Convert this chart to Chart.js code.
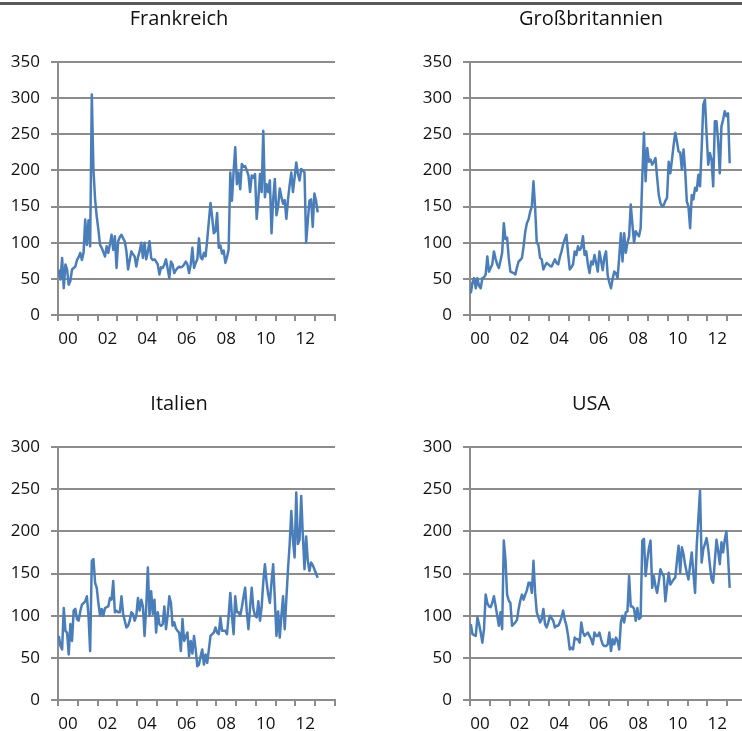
<!DOCTYPE html>
<html>
<head>
<meta charset="utf-8">
<script src="https://cdn.jsdelivr.net/npm/chart.js@4.4.1/dist/chart.umd.min.js"></script>
<style>
  html, body { margin: 0; padding: 0; background: #fff; width: 742px; height: 731px; overflow: hidden; position: relative; }
  #topline { position: absolute; left: 0; top: 2px; width: 742px; height: 3px; background: #5a5a5a; }
  canvas { position: absolute; }
</style>
</head>
<body>
<div id="topline"></div>
<canvas id="c1" width="358" height="355" style="left:0px;top:0px"></canvas>
<canvas id="c2" width="358" height="355" style="left:412px;top:0px"></canvas>
<canvas id="c3" width="358" height="355" style="left:0px;top:385px"></canvas>
<canvas id="c4" width="358" height="355" style="left:412px;top:385px"></canvas>
<script>
// Monthly values, Jan 2000 - Feb 2013
const frankreich = [
  63, 49, 79, 37, 70, 63, 42, 47, 63, 65, 67, 76,
  80, 86, 76, 86, 132, 97, 131, 95, 305, 201, 160, 136,
  118, 97, 93, 87, 81, 95, 86, 98, 111, 90, 109, 65,
  102, 108, 111, 106, 102, 88, 63, 76, 88, 84, 81, 67,
  80, 88, 100, 79, 100, 77, 88, 102, 79, 76, 77, 74,
  70, 56, 66, 65, 70, 77, 64, 51, 74, 70, 58, 62,
  65, 67, 66, 67, 70, 74, 70, 58, 70, 93, 65, 72,
  77, 106, 80, 77, 86, 81, 104, 130, 155, 135, 113, 116,
  141, 93, 96, 85, 89, 72, 80, 91, 197, 158, 198, 232,
  181, 197, 174, 209, 205, 206, 200, 193, 170, 193, 190, 195,
  133, 160, 195, 170, 255, 163, 181, 170, 186, 113, 160, 188,
  138, 150, 175, 163, 154, 159, 133, 160, 180, 197, 170, 190,
  211, 195, 186, 202, 200, 197, 100, 130, 158, 160, 122, 168,
  158, 142
];
const grossbritannien = [
  30, 45, 51, 37, 51, 40, 37, 51, 52, 56, 81, 60,
  65, 70, 88, 78, 70, 65, 75, 86, 127, 105, 107, 79,
  60, 59, 58, 56, 66, 74, 76, 79, 95, 115, 127, 132,
  143, 150, 185, 148, 100, 97, 79, 77, 63, 68, 72, 70,
  68, 67, 72, 77, 72, 70, 80, 88, 98, 105, 111, 85,
  63, 66, 70, 88, 83, 95, 90, 93, 109, 83, 88, 70,
  58, 74, 70, 83, 72, 60, 88, 75, 62, 80, 88, 55,
  45, 37, 50, 60, 58, 51, 80, 113, 74, 113, 86, 100,
  109, 153, 125, 100, 116, 112, 109, 120, 190, 252, 185, 231,
  212, 215, 208, 212, 217, 190, 166, 155, 150, 152, 158, 162,
  212, 196, 215, 235, 252, 240, 226, 225, 201, 229, 200, 157,
  150, 120, 166, 160, 176, 172, 194, 178, 230, 291, 298, 250,
  208, 224, 215, 178, 268, 268, 240, 196, 261, 270, 282, 275,
  279, 210
];
const italien = [
  76, 64, 60, 109, 82, 80, 54, 90, 70, 106, 108, 96,
  94, 105, 113, 115, 117, 123, 100, 58, 165, 167, 139, 133,
  115, 100, 108, 100, 109, 110, 111, 121, 119, 141, 104, 106,
  104, 104, 123, 102, 94, 86, 88, 94, 104, 102, 94, 100,
  121, 106, 119, 111, 76, 110, 157, 100, 129, 102, 119, 80,
  104, 90, 88, 90, 111, 84, 100, 123, 115, 88, 92, 85,
  82, 80, 58, 96, 70, 75, 80, 52, 70, 55, 76, 60,
  40, 42, 52, 60, 42, 54, 44, 60, 76, 78, 80, 86,
  80, 78, 98, 82, 82, 82, 78, 100, 127, 100, 78, 123,
  104, 104, 100, 110, 122, 133, 105, 84, 110, 133, 108, 100,
  98, 117, 94, 110, 140, 161, 140, 125, 115, 140, 161, 120,
  76, 105, 74, 100, 123, 84, 120, 155, 185, 224, 190, 169,
  246, 185, 190, 242, 195, 155, 194, 165, 153, 163, 160, 155,
  150, 145
];
const usa = [
  90, 78, 77, 76, 98, 90, 80, 68, 84, 125, 115, 111,
  110, 115, 123, 112, 100, 88, 104, 84, 189, 167, 125, 118,
  115, 88, 90, 92, 95, 108, 118, 125, 119, 125, 130, 139,
  139, 127, 165, 127, 104, 98, 92, 96, 108, 90, 86, 92,
  100, 97, 94, 86, 88, 88, 92, 98, 106, 95, 88, 76,
  60, 62, 60, 74, 72, 72, 68, 92, 80, 76, 78, 80,
  76, 72, 66, 80, 76, 76, 80, 72, 66, 64, 64, 66,
  80, 58, 72, 66, 74, 70, 60, 92, 100, 92, 104, 105,
  147, 111, 111, 108, 94, 109, 96, 98, 189, 191, 147, 165,
  180, 189, 133, 147, 135, 127, 140, 155, 150, 147, 117, 135,
  151, 137, 140, 143, 145, 165, 183, 151, 181, 173, 160, 151,
  143, 160, 175, 150, 127, 183, 215, 248, 163, 179, 185, 192,
  179, 160, 143, 139, 165, 190, 177, 161, 187, 175, 190, 200,
  170, 133
];
const titles = ['Frankreich', 'Großbritannien', 'Italien', 'USA'];
const yearLabels = ['00', '02', '04', '06', '08', '10', '12'];
const yMaxTop = 350;
const yMaxBottom = 300;
const monthsOnAxis = 168; // 2000 .. end of 2013

const FONT = '"Open Sans", "Liberation Sans", sans-serif';
const LINE = '#4a7ebb';
const GRID = '#8c8c8c';
const TEXT = '#111111';

// Panel title drawn on the canvas (centred over the whole panel, like the original)
const panelTitle = {
  id: 'panelTitle',
  afterDraw(chart, args, opts) {
    const ctx = chart.ctx;
    ctx.save();
    ctx.font = '20px ' + FONT;
    ctx.fillStyle = TEXT;
    ctx.textAlign = 'center';
    ctx.textBaseline = 'middle';
    ctx.fillText(opts.text, opts.x, opts.y);
    ctx.restore();
  }
};

function makeChart(id, title, values, yMax) {
  const points = values.map((v, i) => ({ x: i + 0.5, y: v }));
  new Chart(document.getElementById(id), {
    type: 'line',
    data: {
      datasets: [{
        data: points,
        borderColor: LINE,
        borderWidth: 2.5,
        pointRadius: 0,
        tension: 0,
        fill: false,
        borderJoinStyle: 'round'
      }]
    },
    plugins: [panelTitle],
    options: {
      responsive: false,
      animation: false,
      events: [],
      layout: { padding: { top: 62, right: 23, bottom: 0, left: 0 } },
      plugins: {
        legend: { display: false },
        tooltip: { enabled: false },
        title: { display: false },
        panelTitle: { text: title, x: 179, y: 19 }
      },
      scales: {
        x: {
          type: 'linear',
          min: 0,
          max: monthsOnAxis,
          afterBuildTicks: (scale) => {
            const t = [];
            for (let v = 0; v <= monthsOnAxis; v += 6) t.push({ value: v });
            scale.ticks = t;
          },
          afterFit: (scale) => { scale.height = 40; },
          grid: {
            drawOnChartArea: false,
            drawTicks: true,
            tickLength: 6,
            lineWidth: 2,
            tickColor: (ctx) => (ctx.tick && ctx.tick.value % 12 === 0) ? GRID : 'rgba(0,0,0,0)'
          },
          border: { display: true, color: GRID, width: 2 },
          ticks: {
            autoSkip: false,
            maxRotation: 0,
            minRotation: 0,
            padding: 8,
            color: TEXT,
            font: { family: FONT, size: 17 },
            callback: (v) => (v % 24 === 6) ? yearLabels[(v - 6) / 24] : ''
          }
        },
        y: {
          min: 0,
          max: yMax,
          afterFit: (scale) => { scale.width = 58; },
          grid: {
            color: GRID,
            lineWidth: 2,
            drawTicks: true,
            tickLength: 7,
            tickColor: GRID
          },
          border: { display: true, color: GRID, width: 2 },
          ticks: {
            stepSize: 50,
            padding: 11,
            color: TEXT,
            font: { family: FONT, size: 17 }
          }
        }
      }
    }
  });
}

makeChart('c1', titles[0], frankreich, yMaxTop);
makeChart('c2', titles[1], grossbritannien, yMaxTop);
makeChart('c3', titles[2], italien, yMaxBottom);
makeChart('c4', titles[3], usa, yMaxBottom);
</script>
</body>
</html>
